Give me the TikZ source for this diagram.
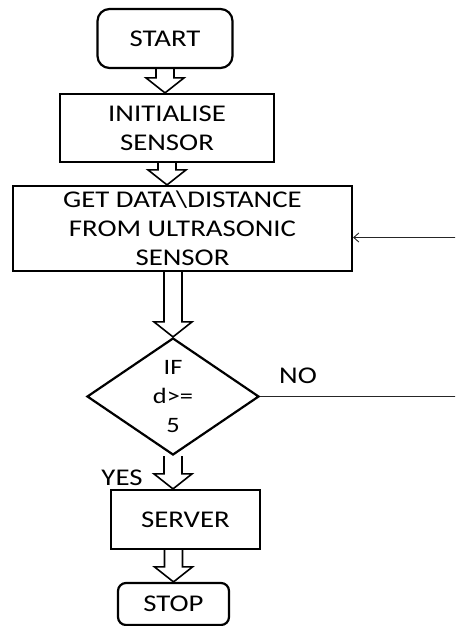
\documentclass[tikz,border=0pt]{standalone}
\usepackage{fontspec}
\setmainfont{Carlito}[FakeStretch=1.2]
\usetikzlibrary{shapes.geometric,calc,arrows.meta}
\tikzset{
  box/.style={draw, line width=2.2pt, inner sep=0pt, align=center,
    font=\fontsize{24}{29}\selectfont},
  term/.style={box, rounded corners=#1},
  decision/.style={draw, diamond, line width=2.2pt, inner sep=0pt, align=center,
    shape aspect=1.5, font=\fontsize{22}{29}\selectfont},
  hollow/.style={line width=1.6pt, line join=miter, to path={
    let \p1=(\tikztostart), \p2=(\tikztotarget) in
    ({\x1-9pt},\y1) -- ({\x1-9pt},{\y2+15pt}) -- ({\x1-19pt},{\y2+15pt})
    -- (\x1,\y2) -- ({\x1+19pt},{\y2+15pt}) -- ({\x1+9pt},{\y2+15pt})
    -- ({\x1+9pt},\y1)}},
  loopline/.style={line width=0.9pt, black!85, -{Straight Barb[length=5pt,width=9pt]}},
  label/.style={font=\fontsize{24}{29}\selectfont}
}
\begin{document}
\begin{tikzpicture}[x=1pt,y=-1pt]
\useasboundingbox (0,0) rectangle (455,626);
\clip (0,0) rectangle (455,626);
% Boxes
\node[term=12pt, minimum width=135pt, minimum height=59pt] (start) at (165,38.5) {START};
\node[box, minimum width=214pt, minimum height=68pt] (init) at (167,128) {INITIALISE\\SENSOR};
\node[box, minimum width=339pt, minimum height=85pt] (get) at (182.5,228.5)
  {GET DATA\textbackslash DISTANCE\\FROM ULTRASONIC\\SENSOR};
\node[decision, minimum width=172pt, minimum height=117pt] (dec) at (173,396.5) {IF\\d>=\\5};
\node[box, minimum width=149pt, minimum height=59pt] (server) at (185.5,519.5) {SERVER};
\node[term=8pt, minimum width=111pt, minimum height=42pt] (stop) at (173.5,604) {STOP};
% Labels
\node[label] (no) at (298,376) {NO};
\node[label] (yes) at (122,477.5) {YES};
% Arrows
\draw[hollow] (start.south) to (start.south |- init.north);
\draw[hollow] (init.south) to (init.south |- get.north);
\draw[hollow] (get.south -| dec.north) to (dec.north);
\draw[hollow] (dec.south) to (dec.south |- server.north);
\draw[hollow] (server.south -| stop.north) to (stop.north);
% Loop back
\draw[loopline] (dec.east) -- ++(230,0) |- ([yshift=-9pt]get.east);
\end{tikzpicture}
\end{document}
